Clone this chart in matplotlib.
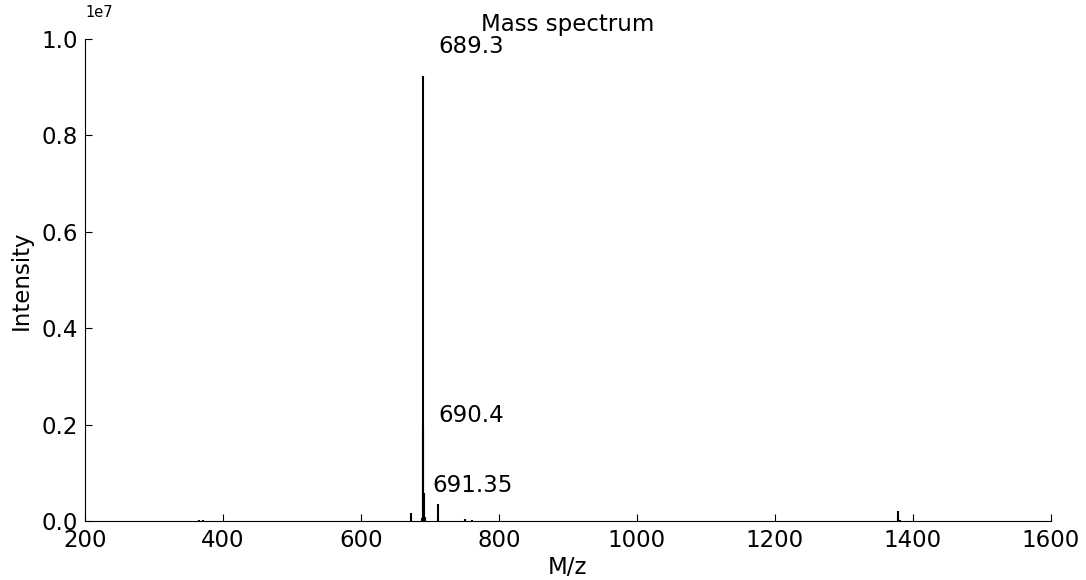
import matplotlib
matplotlib.use("Agg")
import matplotlib.pyplot as plt

# m/z values and intensities
mz = [300.5, 330.2, 352.1, 365.4, 371.0, 405.3, 452.8, 503.6, 551.2, 602.7,
      648.9, 672.3, 688.4, 689.3, 690.4, 691.35, 692.3, 711.3, 712.3, 733.5,
      750.2, 760.4, 801.1, 855.6, 902.3, 955.0, 1003.2, 1060.8, 1101.5,
      1152.3, 1203.9, 1250.6, 1301.1, 1352.7, 1377.6, 1378.6, 1380.5,
      1420.2, 1470.8, 1500.0]
intensity = [3000, 4000, 5000, 20000, 15000, 4000, 3000, 3000, 3000, 4000,
             6000, 170000, 60000, 9230000, 1950000, 580000, 90000, 350000,
             60000, 8000, 40000, 30000, 4000, 3000, 3000, 3000, 3000, 6000,
             3000, 3000, 3000, 3000, 3000, 4000, 200000, 80000, 20000,
             3000, 3000, 3000]

label_mz = [689.3, 690.4, 691.35]
label_int = [9230000, 1950000, 580000]
label_text = ["689.3", "690.4", "691.35"]
label_offsets = [(11, 13), (11, 0), (6, -3)]  # offsets in points

FS = 16.5
plt.rcParams['font.family'] = ['DejaVu Sans']
fig = plt.figure(figsize=(10.86, 5.8), dpi=100)
ax = fig.add_axes([85/1086, 59/580, 966/1086, 482/580])

ax.vlines(mz, 0, intensity, colors='black', linewidth=1.5)
ax.set_xlim(200, 1600)
ax.set_ylim(0, 1.0e7)

for x, y, t, off in zip(label_mz, label_int, label_text, label_offsets):
    ax.annotate(t, xy=(x, y), xytext=off, textcoords='offset points',
                ha='left', va='bottom', fontsize=FS)

ax.spines['top'].set_visible(False)
ax.spines['right'].set_visible(False)
ax.tick_params(direction='in', length=5, labelsize=FS, top=False, right=False)
ax.tick_params(axis='x', pad=6)
ax.tick_params(axis='y', pad=5)
ax.yaxis.get_offset_text().set_visible(False)
ax.text(0.0, 1.056, '1e7', transform=ax.transAxes, ha='left', va='center',
        fontsize=10.5)
ax.set_xlabel('M/z', fontsize=FS, labelpad=3)
ax.set_ylabel('Intensity', fontsize=FS, labelpad=6)
ax.set_title('Mass spectrum', fontsize=FS, pad=6)

fig.savefig('out.png', dpi=100)
